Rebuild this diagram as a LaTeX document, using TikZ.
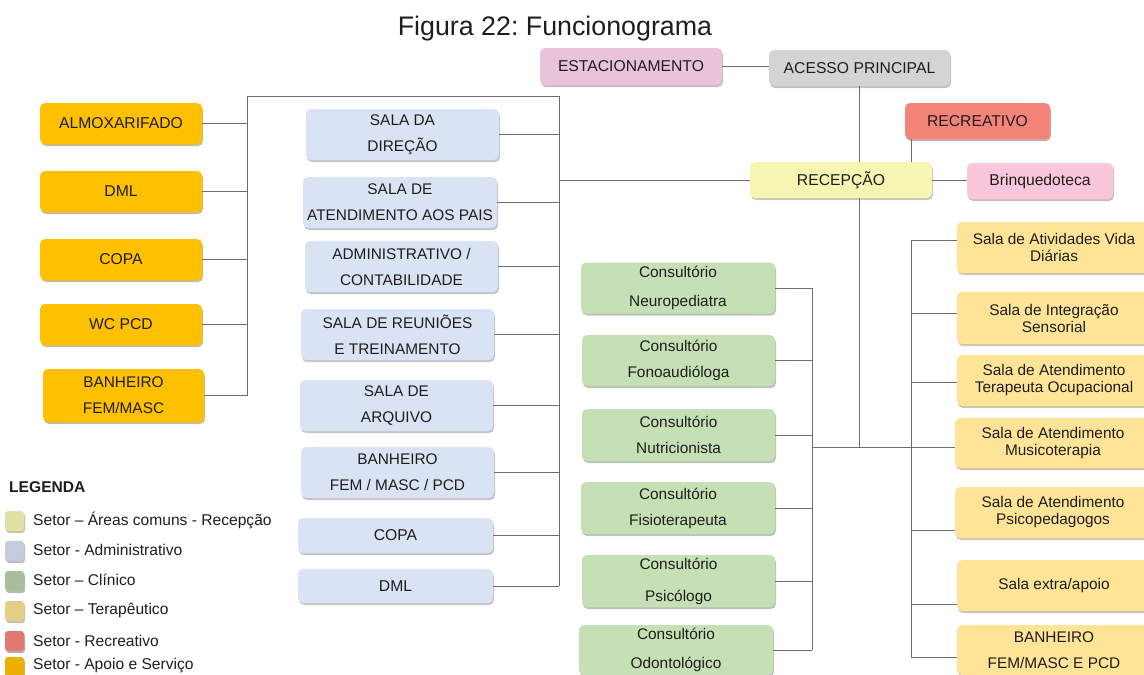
\documentclass[tikz,border=0pt]{standalone}
\usepackage{fontspec}
\setmainfont{Liberation Sans}
\usetikzlibrary{shadows}
\frenchspacing
\definecolor{cApoio}{RGB}{255,192,0}
\definecolor{cAdm}{RGB}{218,227,243}
\definecolor{cCli}{RGB}{197,224,180}
\definecolor{cTer}{RGB}{255,227,150}
\definecolor{cRec}{RGB}{244,131,122}
\definecolor{cRecep}{RGB}{246,245,178}
\definecolor{cEst}{RGB}{233,196,217}
\definecolor{cAce}{RGB}{212,212,212}
\definecolor{cBrq}{RGB}{250,199,218}
\definecolor{cLine}{RGB}{110,110,110}
\definecolor{cTxt}{RGB}{30,30,30}
\begin{document}
\frenchspacing
\begin{tikzpicture}[x=1pt,y=-1pt,
  box/.style={fill=#1, rounded corners=5pt, align=center, inner sep=0pt, text=cTxt,
    font=\fontsize{15.7}{18}\selectfont,
    drop shadow={shadow xshift=1pt,shadow yshift=-2pt,opacity=0.45,fill=#1!55!black}},
  sz/.style 2 args={minimum width=#1, minimum height=#2},
  wide/.style={font=\fontsize{15.4}{26}\selectfont},
  ter/.style={font=\fontsize{15.4}{17}\selectfont},
  conn/.style={draw=cLine, line width=1pt},
  legbox/.style={box=#1, rounded corners=3pt, minimum width=19pt, minimum height=20pt},
  legtxt/.style={anchor=west, text=cTxt, font=\fontsize{15.6}{18}\selectfont, inner sep=0pt},
]
\useasboundingbox (0,0) rectangle (1144,675);

% title
\node[anchor=base, text=cTxt, font=\fontsize{26.8}{30}\selectfont, inner sep=0pt] (title) at (555,35) {Figura 22: Funcionograma};

% top row
\node[box=cEst, sz={182pt}{37pt}] (est) at (631,66.5) {ESTACIONAMENTO};
\node[box=cAce, sz={181pt}{36pt}] (acc) at (859.5,68) {ACESSO PRINCIPAL};
\node[box=cRec, sz={145pt}{36pt}] (recr) at (977.5,121) {RECREATIVO};
\node[box=cRecep, sz={182pt}{36pt}] (recep) at (841,180) {RECEPÇÃO};
\node[box=cBrq, sz={146pt}{36pt}] (brq) at (1040,181) {Brinquedoteca};

% apoio
\node[box=cApoio, sz={162pt}{41pt}] (alm) at (121,123.5) {ALMOXARIFADO};
\node[box=cApoio, sz={162pt}{41pt}] (dmla) at (121,191.5) {DML};
\node[box=cApoio, sz={162pt}{41pt}] (copaa) at (121,259.5) {COPA};
\node[box=cApoio, sz={162pt}{41pt}] (wc) at (121,324.5) {WC PCD};
\node[box=cApoio, sz={161pt}{53pt}, wide] (bana) at (123.5,395.5) {BANHEIRO\\FEM/MASC};

% administrativo
\node[box=cAdm, sz={193pt}{51pt}, wide] (dir) at (402.5,134.5) {SALA DA\\DIREÇÃO};
\node[box=cAdm, sz={194pt}{51pt}, wide] (pais) at (400,202.5) {SALA DE\\ATENDIMENTO AOS PAIS};
\node[box=cAdm, sz={193pt}{51pt}, wide] (adm) at (401.5,266.5) {ADMINISTRATIVO /\\CONTABILIDADE};
\node[box=cAdm, sz={193pt}{51pt}, wide] (reun) at (397.5,334.5) {SALA DE REUNIÕES\\E TREINAMENTO};
\node[box=cAdm, sz={193pt}{51pt}, wide] (arq) at (396.5,405.5) {SALA DE\\ARQUIVO};
\node[box=cAdm, sz={193pt}{51pt}, wide] (banb) at (397.5,472.5) {BANHEIRO\\FEM / MASC / PCD};
\node[box=cAdm, sz={195pt}{35pt}] (copab) at (395.5,535.5) {COPA};
\node[box=cAdm, sz={195pt}{34pt}] (dmlb) at (395.5,586) {DML};

% clinico
\node[box=cCli, sz={194pt}{51pt}, font=\fontsize{15.4}{29}\selectfont] (neu) at (678,288) {Consultório\\Neuropediatra};
\node[box=cCli, sz={193pt}{51pt}, wide] (fono) at (678.5,360.5) {Consultório\\Fonoaudióloga};
\node[box=cCli, sz={193pt}{52pt}, wide] (nutri) at (678.5,435) {Consultório\\Nutricionista};
\node[box=cCli, sz={194pt}{52pt}, wide] (fisio) at (678,508) {Consultório\\Fisioterapeuta};
\node[box=cCli, sz={193pt}{52pt}, font=\fontsize{15.4}{32}\selectfont] (psic) at (678.5,581) {Consultório\\Psicólogo};
\node[box=cCli, sz={194pt}{50pt}, font=\fontsize{15.4}{29}\selectfont] (odon) at (676,650) {Consultório\\Odontológico};

% terapeutico
\node[box=cTer, sz={194pt}{51pt}, ter] (ativ) at (1054,247.5) {Sala de Atividades Vida\\Diárias};
\node[box=cTer, sz={194pt}{52pt}, ter] (integ) at (1054,318) {Sala de Integração\\Sensorial};
\node[box=cTer, sz={194pt}{51pt}, ter] (ocup) at (1054,380.5) {Sala de Atendimento\\Terapeuta Ocupacional};
\node[box=cTer, sz={196pt}{50pt}, ter] (musi) at (1053,443) {Sala de Atendimento\\Musicoterapia};
\node[box=cTer, sz={196pt}{51pt}, ter] (psicop) at (1053,512.5) {Sala de Atendimento\\Psicopedagogos};
\node[box=cTer, sz={194pt}{51pt}, ter] (extra) at (1054,585.5) {Sala extra/apoio};
\node[box=cTer, sz={194pt}{50pt}, wide] (banc) at (1054,650) {BANHEIRO\\FEM/MASC E PCD};

% connectors: top
\draw[conn] (est.east) -- (est.east -| acc.west);
\draw[conn] (acc.south) -- (acc.south |- recep.north);
\coordinate (rrt) at ([xshift=7pt]recr.south west);
\draw[conn] (rrt) -- (rrt |- recep.north);
\draw[conn] (recep.east) -- (recep.east -| brq.west);

% left trunks
\coordinate (pt) at (247,96);
\coordinate (at) at (559,96);
\draw[conn] (pt |- bana.east) -- (pt) -- (at) -- (at |- dmlb.east);
\draw[conn] (recep.west) -- (recep.west -| at);
\foreach \n in {alm,dmla,copaa,wc,bana}{
  \draw[conn] (\n.east) -- (\n.east -| pt);
}
\foreach \n in {dir,pais,adm,reun,arq,banb,copab,dmlb}{
  \draw[conn] (\n.east) -- (\n.east -| at);
}

% lower trunks
\coordinate (j) at (0,447);
\coordinate (gt) at (812,0);
\coordinate (tt) at (911,0);
\draw[conn] (acc.south |- recep.south) -- (acc.south |- j);
\draw[conn] (j -| gt) -- (j -| tt);
\draw[conn] (neu.east -| gt) -- (odon.east -| gt);
\foreach \n in {neu,fono,nutri,fisio,psic,odon}{
  \draw[conn] (\n.east) -- (\n.east -| gt);
}
\coordinate (t1) at (911,240);
\coordinate (t2) at (911,313);
\coordinate (t3) at (911,382);
\coordinate (t4) at (911,447);
\coordinate (t5) at (911,530);
\coordinate (t6) at (911,604);
\coordinate (t7) at (911,657);
\draw[conn] (t1) -- (t7);
\draw[conn] (t1) -- (t1 -| ativ.west);
\draw[conn] (t2) -- (t2 -| integ.west);
\draw[conn] (t3) -- (t3 -| ocup.west);
\draw[conn] (t4) -- (t4 -| musi.west);
\draw[conn] (t5) -- (t5 -| psicop.west);
\draw[conn] (t6) -- (t6 -| extra.west);
\draw[conn] (t7) -- (t7 -| banc.west);

% legend
\node[anchor=west, inner sep=0pt, text=cTxt, font=\fontsize{15.6}{18}\selectfont\bfseries] (leg) at (9,487) {LEGENDA};
\node[legbox=cRecep!92!black] (l1) at (14.5,521) {};
\node[legbox=cAdm!90!black] (l2) at (14.5,551) {};
\node[legbox=cCli!85!black] (l3) at (14.5,581) {};
\node[legbox=cTer!90!black] (l4) at (14.5,611) {};
\node[legbox=cRec!92!black] (l5) at (14.5,641) {};
\node[legbox=cApoio!92!black] (l6) at (14.5,667) {};
\node[legtxt] (lt1) at (33,520) {Setor – Áreas comuns - Recepção};
\node[legtxt] (lt2) at (33,550) {Setor - Administrativo};
\node[legtxt] (lt3) at (33,580) {Setor – Clínico};
\node[legtxt] (lt4) at (33,610) {Setor – Terapêutico};
\node[legtxt] (lt5) at (33,641) {Setor - Recreativo};
\node[legtxt] (lt6) at (33,665.5) {Setor - Apoio e Serviço};
\end{tikzpicture}
\end{document}
